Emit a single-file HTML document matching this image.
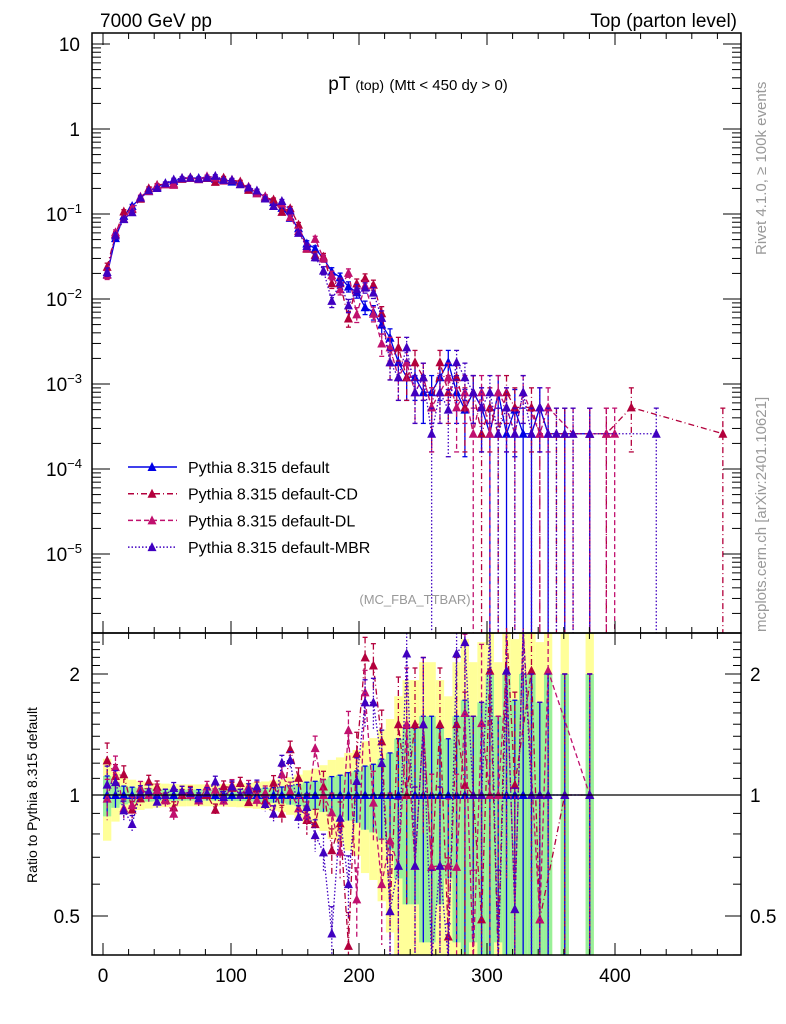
<!DOCTYPE html>
<html><head><meta charset="utf-8"><style>
body{margin:0;background:#fff;}
svg{display:block;font-family:"Liberation Sans",sans-serif;}
</style></head><body>
<svg id="c" width="786" height="1024" viewBox="0 0 786 1024" xmlns="http://www.w3.org/2000/svg">
<text x="100" y="27" font-size="19">7000 GeV pp</text>
<text x="737" y="27" font-size="19" text-anchor="end">Top (parton level)</text>
<text x="418" y="90" font-size="19" text-anchor="middle">pT <tspan font-size="14">(top)</tspan> <tspan font-size="15">(Mtt &lt; 450 dy &gt; 0)</tspan></text>
<text transform="translate(766,255) rotate(-90)" font-size="15" fill="#999">Rivet 4.1.0, ≥ 100k events</text>
<text transform="translate(766,632) rotate(-90)" font-size="15" fill="#999">mcplots.cern.ch [arXiv:2401.10621]</text>
<text x="415" y="604" font-size="13" fill="#999" text-anchor="middle">(MC_FBA_TTBAR)</text>
<text transform="translate(37,795) rotate(-90)" font-size="14" text-anchor="middle">Ratio to Pythia 8.315 default</text>
<g id="bands"></g><g id="marks"></g><g id="axes"></g><g id="legend"></g>
</svg>
<script>
const binStart = 0;
const binWidth = 6.5;
const valDefault = [.0196,.052,.095,.124,.154,.186,.21,.23,.245,.26,.265,.265,.265,.26,.255,.24,.225,.2,.18,.16,.138,.118,.09,.068,.045,.039,.03,.021,.018,.014,.012,.008,.007,.005,
.0035,.0018,.0012,.0012,.0008,.0008,.0012,.0018,.0008,.0005,.0008,.00053,.00026,.0008,.00026,.0005,.00026,.00026,.00053,.00026,null,.00026,null,null,.00026];
const valCD = [.0239,.058,.107,.114,.151,.201,.22,.225,.228,.26,.27,.257,.265,.239,.268,.25,.241,.192,.187,.155,.148,.106,.117,.075,.039,.033,.0315,.0153,.0153,.0059,.0152,.0176,.0147,.0068,
.0018,.0027,.0012,.0018,.0012,.00053,.0018,.0008,.0012,.00053,.0008,.00026,.00053,.00026,.0008,.00053,null,.00053,.00026,null,.00026,.00026,null,null,.00026,null,.00026,null,null,.00053,null,null,null,null,null,null,null,null,null,null,.00026];
const valDL = [.0192,.061,.088,.117,.16,.186,.216,.223,.22,.265,.265,.257,.278,.268,.247,.254,.225,.21,.175,.162,.124,.133,.092,.063,.04,.051,.03,.019,.013,.0203,.0066,.0144,.0067,.003,
.0027,.0012,.0018,.0008,.0012,.00053,.0008,.0012,.00053,.0008,.00026,.0008,.00026,.0008,.00053,.00026,.0008,null,.00026,.00053,null,null,.00026,null,.00026,null,.00026,.00026];
const valMBR = [.0208,.056,.087,.105,.156,.19,.202,.23,.255,.265,.268,.26,.268,.281,.252,.252,.225,.206,.189,.152,.124,.142,.11,.06,.042,.031,.0216,.0095,.0158,.0084,.013,.0136,.0119,.006,
.0018,.0012,.0027,.0008,.0012,.00026,.0008,.0005,.0018,.0012,.0008,.00053,.0008,.00026,.00053,.00026,.0008,.00026,.00053,.00026,.00026,.00026,.00026,null,.00026,null,null,null,null,null,null,null,.00026];
const unitWeight = 0.00026;
const xTicks = [0,100,200,300,400];
const yDecades = [1,0,-1,-2,-3,-4,-5];
const ratioTicks = [0.5,1,2];
const seriesNames = ["Pythia 8.315 default","Pythia 8.315 default-CD","Pythia 8.315 default-DL","Pythia 8.315 default-MBR"];

const NS="http://www.w3.org/2000/svg";
const L=92,R=741,T=33,MB=633,RB=955;
const X=v=>103+1.28*v;
const Y=v=>44+85*(1-Math.log10(v));
const YR=r=>795-121*Math.log2(r);
function mk(tag,attrs,parent){const e=document.createElementNS(NS,tag);for(const k in attrs)e.setAttribute(k,attrs[k]);parent.appendChild(e);return e;}
const bands=document.getElementById('bands'),marks=document.getElementById('marks'),axes=document.getElementById('axes'),legend=document.getElementById('legend');
const cy=(v,lo,hi)=>Math.max(lo,Math.min(hi,v));
const series=[
 {vals:valDefault,color:"#0000e6",dash:"",name:"default"},
 {vals:valCD,color:"#b3003c",dash:"6,3,1,3",name:"cd"},
 {vals:valDL,color:"#c0106e",dash:"5,3",name:"dl"},
 {vals:valMBR,color:"#4000c0",dash:"1.5,2",name:"mbr"}];
valDefault.forEach((v,i)=>{
  if(v==null)return;
  const rel=1/Math.sqrt(v/unitWeight);
  const x0=X(binStart+i*binWidth),x1=X(binStart+(i+1)*binWidth);
  const y1=YR(1+2*rel),y2=(1-2*rel)>0?YR(1-2*rel):RB;
  const yb=mk('rect',{x:x0,y:cy(y1,MB,RB),width:x1-x0,height:cy(y2,MB,RB)-cy(y1,MB,RB),fill:"#ffff99"},bands);
  
  
  const g1=YR(1+rel),g2=(1-rel)>0?YR(1-rel):RB;
  const gb=mk('rect',{x:x0,y:cy(g1,MB,RB),width:x1-x0,height:cy(g2,MB,RB)-cy(g1,MB,RB),fill:"#99f099"},bands);
  
  
});
function tri(x,y,c,parent){const p=mk('polygon',{points:`${x-4.5},${y+4} ${x+4.5},${y+4} ${x},${y-5}`,fill:c},parent);return p;}
series.forEach(s=>{
  const g=mk('g',{},marks);
  
  
  let pts=[],rpts=[];
  s.vals.forEach((v,i)=>{
    if(v==null)return;
    const xc=X(binStart+(i+0.5)*binWidth);
    const rel=1/Math.sqrt(v/unitWeight);
    const y=Y(v),yh=Y(v*(1+rel)),yl=(1-rel)>0.001?Y(v*(1-rel)):MB;
    pts.push([xc,y]);
    mk('line',{x1:xc,x2:xc,y1:cy(yh,T,MB),y2:cy(yl,T,MB),stroke:s.color,"stroke-width":1.3,"stroke-dasharray":s.dash},g);
    mk('line',{x1:xc-2.5,x2:xc+2.5,y1:yh,y2:yh,stroke:s.color,"stroke-width":1.3},g);
    if(yl<MB)mk('line',{x1:xc-2.5,x2:xc+2.5,y1:yl,y2:yl,stroke:s.color,"stroke-width":1.3},g);
    const d=valDefault[i];
    if(d!=null){
      const r=v/d;
      const ry=YR(r),rh=YR(r*(1+rel)),rl=(1-rel)>0.001?YR(r*(1-rel)):RB;
      mk('line',{x1:xc,x2:xc,y1:cy(rh,MB,RB),y2:cy(rl,MB,RB),stroke:s.color,"stroke-width":1.3,"stroke-dasharray":s.dash},g);
      if(rh>MB)mk('line',{x1:xc-2.5,x2:xc+2.5,y1:rh,y2:rh,stroke:s.color,"stroke-width":1.3},g);
      rpts.push([xc,ry]);
    }
  });
  mk('polyline',{points:pts.map(p=>p.join(',')).join(' '),fill:"none",stroke:s.color,"stroke-width":1.3,"stroke-dasharray":s.dash},g);
  mk('polyline',{points:rpts.map(p=>p[0]+','+cy(p[1],MB-5,RB+5)).join(' '),fill:"none",stroke:s.color,"stroke-width":1.3,"stroke-dasharray":s.dash},g);
  pts.forEach(p=>{const m=tri(p[0],p[1],s.color,g);});
  rpts.forEach(p=>{if(p[1]>MB-4&&p[1]<RB+4){const m=tri(p[0],p[1],s.color,g);}});
});
mk('rect',{x:0,y:RB+1,width:786,height:70,fill:"#fff"},axes);
mk('line',{x1:L,x2:R,y1:795,y2:795,stroke:"#000","stroke-width":1.2},axes);
mk('rect',{x:L,y:T,width:R-L,height:MB-T,fill:"none",stroke:"#000","stroke-width":1.5},axes);
mk('rect',{x:L,y:MB,width:R-L,height:RB-MB,fill:"none",stroke:"#000","stroke-width":1.5},axes);
for(let v=0;v<=490;v+=20){const x=X(v);if(x>R)break;const maj=v%100===0;
  [[T,1],[MB,-1],[MB,1],[RB,-1]].forEach(([y0,dir])=>mk('line',{x1:x,x2:x,y1:y0,y2:y0+dir*(maj?12:6),stroke:"#000","stroke-width":1},axes));}
xTicks.forEach(v=>{const t=mk('text',{x:X(v),y:982,"font-size":19,"text-anchor":"middle"},axes);t.textContent=v;});
yDecades.forEach(d=>{
  const y=Y(Math.pow(10,d));
  [L,R].forEach(x0=>mk('line',{x1:x0,x2:x0+(x0===L?18:-18),y1:y,y2:y,stroke:"#000"},axes));
  for(let k=2;k<=9;k++){const ym=Y(k*Math.pow(10,d-1));if(ym<MB&&ym>T)[L,R].forEach(x0=>mk('line',{x1:x0,x2:x0+(x0===L?9:-9),y1:ym,y2:ym,stroke:"#000"},axes));}
  const t=mk('text',{x:80,y:y+7,"font-size":19,"text-anchor":"end"},axes);
  
  
  if(d===1)t.textContent="10";else if(d===0)t.textContent="1";
  else{t.textContent="10";const s=document.createElementNS(NS,'tspan');s.setAttribute('dy','-8');s.setAttribute('font-size','13');s.textContent=String(d).replace('-','−');t.appendChild(s);t.setAttribute('x',82);}
});
for(let k=2;k<=9;k++){const ym=Y(k*10);if(ym>T)[L,R].forEach(x0=>mk('line',{x1:x0,x2:x0+(x0===L?9:-9),y1:ym,y2:ym,stroke:"#000"},axes));}
for(let r=0.4;r<=2.5;r+=0.1){const y=YR(r);if(y>MB&&y<RB)[L,R].forEach(x0=>mk('line',{x1:x0,x2:x0+(x0===L?8:-8),y1:y,y2:y,stroke:"#000"},axes));}
ratioTicks.forEach(r=>{const y=YR(r);
  [L,R].forEach(x0=>mk('line',{x1:x0,x2:x0+(x0===L?16:-16),y1:y,y2:y,stroke:"#000"},axes));
  const t1=mk('text',{x:80,y:y+7,"font-size":19,"text-anchor":"end"},axes);t1.textContent=r;
  
  
  const t2=mk('text',{x:750,y:y+7,"font-size":19},axes);t2.textContent=r;
  
  
});
series.forEach((s,i)=>{
  const y=467+i*26.7;
  const g=mk('g',{},legend);
  
  
  mk('line',{x1:128,x2:177,y1:y,y2:y,stroke:s.color,"stroke-width":1.5,"stroke-dasharray":s.dash},g);
  tri(152,y,s.color,g);
  const t=mk('text',{x:188,y:y+6,"font-size":16},g);t.textContent=seriesNames[i];
});
</script>
</body></html>
